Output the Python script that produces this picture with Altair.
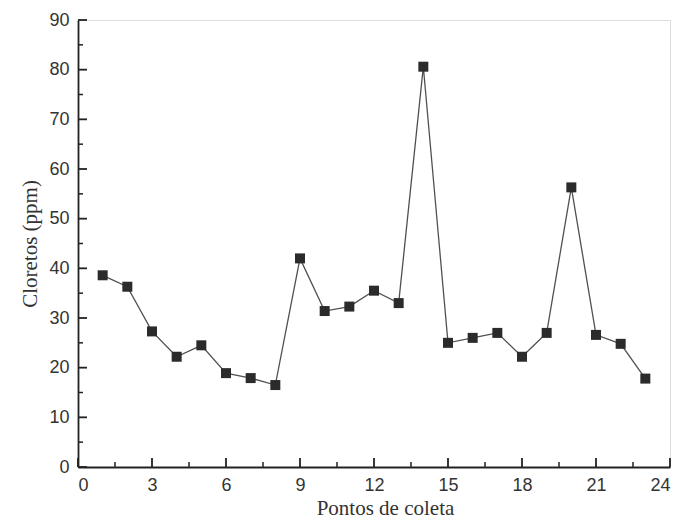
import altair as alt
import pandas as pd

pontos = list(range(1, 24))
cloretos = [38.6, 36.3, 27.3, 22.2, 24.5, 18.9, 17.9, 16.5, 42.0, 31.4, 32.3, 35.5,
            33.0, 80.6, 25.0, 26.0, 27.0, 22.2, 27.0, 56.3, 26.6, 24.8, 17.8]

x_major = [0, 3, 6, 9, 12, 15, 18, 21, 24]
x_minor = [1.5, 4.5, 7.5, 10.5, 13.5, 16.5, 19.5, 22.5]
y_major = [0, 10, 20, 30, 40, 50, 60, 70, 80, 90]
y_minor = [5, 15, 25, 35, 45, 55, 65, 75, 85]

W, H = 592, 447

df = pd.DataFrame({"x": pontos, "y": cloretos})
xs = alt.Scale(domain=[0, 24], nice=False, zero=False)
ys = alt.Scale(domain=[0, 90], nice=False)

label_font = "Liberation Sans"
title_font = "Liberation Serif"

base = alt.Chart(df)
line = base.mark_line(color="#505050", strokeWidth=1.3).encode(
    x=alt.X("x:Q", scale=xs,
            axis=alt.Axis(values=x_major, ticks=False, grid=False, domainColor="#222",
                          domainWidth=1.8, labelFont=label_font, labelFontSize=18,
                          labelColor="#333", labelPadding=9, title="Pontos de coleta",
                          titleFont=title_font, titleFontSize=21, titleFontWeight="normal",
                          titleColor="#333", titlePadding=3, titleX=307)),
    y=alt.Y("y:Q", scale=ys,
            axis=alt.Axis(values=y_major, ticks=False, grid=False, domainColor="#222",
                          domainWidth=1.8, labelFont=label_font, labelFontSize=18,
                          labelColor="#333", labelPadding=9, title="Cloretos (ppm)",
                          titleFont=title_font, titleFontSize=21, titleFontWeight="normal",
                          titleColor="#333", titlePadding=8)),
)
pts = base.mark_square(color="#2b2b2b", size=100, opacity=1).encode(
    x=alt.X("x:Q", scale=xs), y=alt.Y("y:Q", scale=ys))

xmaj = alt.Chart(pd.DataFrame({"v": x_major})).mark_rule(color="#222", strokeWidth=1.8).encode(
    x=alt.X("v:Q", scale=xs), y=alt.value(H), y2=alt.value(H - 9))
xmin = alt.Chart(pd.DataFrame({"v": x_minor})).mark_rule(color="#222", strokeWidth=1.5).encode(
    x=alt.X("v:Q", scale=xs), y=alt.value(H), y2=alt.value(H - 5))
ymaj = alt.Chart(pd.DataFrame({"v": y_major})).mark_rule(color="#222", strokeWidth=1.8).encode(
    y=alt.Y("v:Q", scale=ys), x=alt.value(0), x2=alt.value(9))
ymin = alt.Chart(pd.DataFrame({"v": y_minor})).mark_rule(color="#222", strokeWidth=1.5).encode(
    y=alt.Y("v:Q", scale=ys), x=alt.value(0), x2=alt.value(5))

chart = alt.layer(line, pts, xmaj, xmin, ymaj, ymin).properties(
    width=W, height=H, padding={"left": 11, "top": 3, "right": 5, "bottom": 0}
).configure_view(stroke="#333", strokeWidth=1.6).configure(background="white")

chart.save("out.html", embed_options={"renderer": "svg", "actions": False})
